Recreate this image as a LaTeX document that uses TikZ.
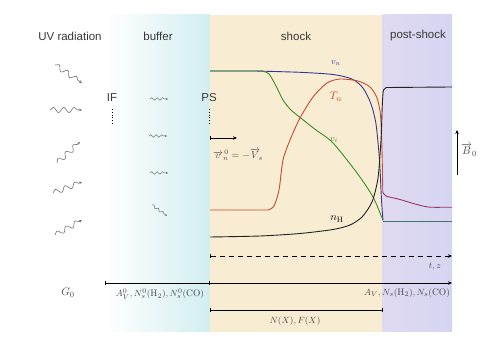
\documentclass[tikz,border=0pt]{standalone}
\usepackage{fontspec}
\setsansfont{Liberation Sans}
\usetikzlibrary{arrows.meta,decorations.pathmorphing}
\definecolor{bufc}{HTML}{D3EEF0}
\definecolor{shockc}{HTML}{F8EDD3}
\definecolor{postl}{HTML}{E0DAF1}
\definecolor{postr}{HTML}{D5D5F3}
\definecolor{txt}{HTML}{383838}
\definecolor{mtxt}{HTML}{484848}
\definecolor{cvn}{HTML}{34359A}
\definecolor{cvi}{HTML}{3D8B26}
\definecolor{ctn}{HTML}{C64B2C}
\definecolor{cpost}{HTML}{9A3862}
\definecolor{cteal}{HTML}{3E7668}
\definecolor{cnh}{HTML}{222222}
\definecolor{wav}{HTML}{707070}
\begin{document}
\begin{tikzpicture}[x=1pt,y=-1pt,
  lab/.style={font=\sffamily\fontsize{11.5}{13}\selectfont,text=txt,inner sep=0pt},
  mlab/.style={font=\fontsize{9.5}{11}\selectfont,text=mtxt,inner sep=0pt},
  curve/.style={line width=0.9pt},
  axis/.style={line width=0.7pt,black},
  uvwave/.style={draw=wav,line width=0.6pt,-{Stealth[length=3pt,width=2.6pt]},
    decorate,decoration={snake,amplitude=2.6pt,segment length=10.5pt,post length=2pt}},
  bwave/.style={draw=wav,line width=0.5pt,-{Stealth[length=2pt,width=2pt]},
    decorate,decoration={snake,amplitude=1.3pt,segment length=5.5pt,post length=1.5pt}},
  dotline/.style={line width=0.8pt,dotted,black}]
\useasboundingbox (0,0) rectangle (490,347);
% regions
\shade[left color=white,right color=bufc] (105,15) rectangle (210,332);
\fill[shockc] (210,15) rectangle (382.5,332);
\shade[left color=postl,right color=postr] (382.5,15) rectangle (452,332);
% titles
\node[lab] (uv) at (70,36) {UV radiation};
\node[lab] (buf) at (158,36) {buffer};
\node[lab] (sh) at (296,36) {shock};
\node[lab] (ps) at (418,36) {post-shock};
% UV waves
\coordinate (w1a) at (55,65);  \coordinate (w1b) at (82,83);
\coordinate (w2a) at (50,110); \coordinate (w2b) at (82,110);
\coordinate (w3a) at (57,163); \coordinate (w3b) at (80,142);
\coordinate (w4a) at (53,193); \coordinate (w4b) at (82,182);
\coordinate (w5a) at (55,235); \coordinate (w5b) at (82,220);
\foreach \i in {1,...,5} \draw[uvwave] (w\i a) -- (w\i b);
% buffer waves
\coordinate (b1a) at (150,99);  \coordinate (b1b) at (168,99);
\coordinate (b2a) at (149,136); \coordinate (b2b) at (167,136);
\coordinate (b3a) at (150,173); \coordinate (b3b) at (168,173);
\coordinate (b4a) at (152,205); \coordinate (b4b) at (167,216);
\foreach \i in {1,...,4} \draw[bwave] (b\i a) -- (b\i b);
% IF and PS
\node[lab] (if) at (112,98) {IF};
\coordinate (if1) at (112,109); \coordinate (if2) at (112,125);
\draw[dotline] (if1) -- (if2);
\node[lab] (pslab) at (209,98) {PS};
\coordinate (ps1) at (209,109); \coordinate (ps2) at (209,125);
\draw[dotline] (ps1) -- (ps2);
% velocity arrow
\coordinate (va) at (210,138); \coordinate (vb) at (237,138);
\draw[axis,{Bar[width=4pt]}-{Stealth[length=4pt,width=3.5pt]}] (va) -- (vb);
\node[mlab,font=\fontsize{10}{12}\selectfont] (vlab) at (238,155) {$\overrightarrow{v}^{\,0}_{n}=-\overrightarrow{V}_{\!s}$};
% curves
\draw[curve,cvn] (210,71) -- plot[smooth,tension=0.45] coordinates {(255,71) (300,72.3) (333,74.5) (352,79) (363,88) (371,104) (376,124) (379.5,160) (381.5,200) (383,220)};
\draw[curve,cvi] (210,71) -- plot[smooth,tension=0.5] coordinates {(262,71) (269,74) (276,86) (283,100) (291,110) (302,119) (316,130) (333,143) (357,173) (373,197) (383,220.5)};
\draw[curve,ctn] (210,210) -- plot[smooth,tension=0.45] coordinates {(268,210) (274,206) (279,190) (283,160) (290,140) (300,118) (313,97) (327,83) (340,79) (358,81) (370,87) (377,98) (380.5,115) (382,150) (382.8,192)};
\draw[curve,cpost] plot[smooth,tension=0.5] coordinates {(382.8,192) (386,196) (400,199.5) (415,204) (428,207) (440,207.3)} -- (452,207.3);
\draw[curve,cnh] plot[smooth,tension=0.45] coordinates {(210,237) (260,236) (300,233.5) (333,229.5) (350,225) (362,217) (372,202) (378,178) (381,140) (382.3,105) (383.5,90) (387,87.5)} -- (452,87);
\draw[curve,cteal] (383,221) -- (452,221);
% curve labels
\node[inner sep=0pt,text=cvn,font=\fontsize{9}{10}\selectfont] (lvn) at (336,63) {$v_n$};
\node[inner sep=0pt,text=ctn,font=\fontsize{11}{13}\selectfont] (ltn) at (336,97) {$T_n$};
\node[inner sep=0pt,text=cvi,font=\fontsize{9.5}{11}\selectfont] (lvi) at (334,140) {$v_i$};
\node[inner sep=0pt,text=black,font=\fontsize{11}{13}\selectfont] (lnh) at (337,219) {$n_{\mathrm{H}}$};
% B0
\coordinate (B1) at (457,175); \coordinate (B2) at (457,130);
\draw[axis,-{Stealth[length=4pt,width=3.5pt]}] (B1) -- (B2);
\node[inner sep=0pt,text=mtxt,font=\fontsize{11}{13}\selectfont] (blab) at (469,150) {$\overrightarrow{B}_{0}$};
% time axis
\coordinate (t1) at (210,256); \coordinate (t2) at (452,256);
\draw[axis,dash pattern=on 5pt off 4pt,{Bar[width=4pt]}-{Stealth[length=4pt,width=3.5pt]}] (t1) -- (t2);
\node[mlab] (tz) at (435,267) {$t,z$};
% column axis
\coordinate (a1) at (105,283); \coordinate (a2) at (452,283); \coordinate (am) at (209,283);
\draw[axis,{Bar[width=4pt]}-{Stealth[length=4pt,width=3.5pt]}] (a1) -- (a2);
\draw[axis] ([yshift=-2pt]am) -- ([yshift=2pt]am);
\node[mlab,font=\fontsize{11}{13}\selectfont] (g0) at (68,293) {$G_0$};
\node[mlab] (av0) at (160,294) {$A_V^0, N_s^0(\mathrm{H}_2), N_s^0(\mathrm{CO})$};
\node[mlab] (av) at (407,293) {$A_V, N_s(\mathrm{H}_2), N_s(\mathrm{CO})$};
% N(X) axis
\coordinate (n1) at (210,310); \coordinate (n2) at (383,310);
\draw[axis,{Bar[width=4pt]}-{Bar[width=4pt]}] (n1) -- (n2);
\node[mlab] (nx) at (295,321) {$N(X), F(X)$};
\end{tikzpicture}
\end{document}
